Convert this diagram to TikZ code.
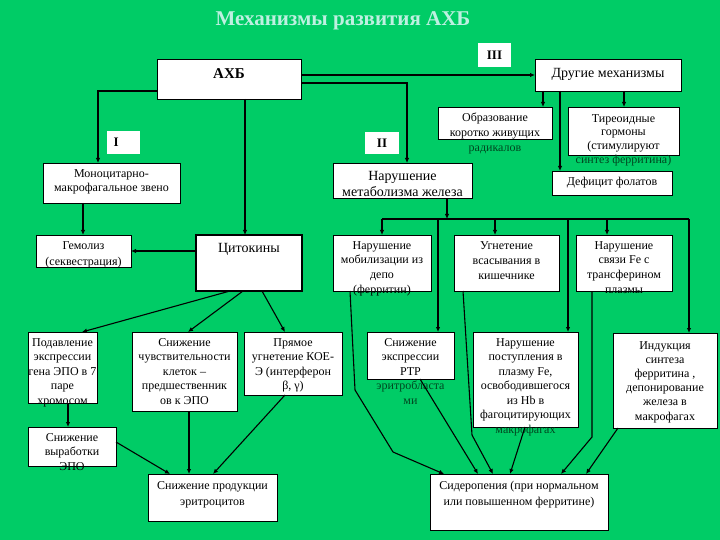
\documentclass[tikz,border=0pt]{standalone}
\usepackage{fontspec}
\setmainfont{Liberation Serif}
\usetikzlibrary{arrows.meta}
\definecolor{bg}{RGB}{0,204,102}
\definecolor{ttl}{RGB}{190,240,225}
\definecolor{ovf}{RGB}{0,70,32}
\newcommand\bx[5]{\node[box,minimum width={(#4-#2)*1pt},minimum height={(#5-#3)*1pt}] (#1) at ({(#2+#4)/2},{(#3+#5)/2}) {};}
\begin{document}
\begin{tikzpicture}[x=1pt,y=-1pt,
  box/.style={draw=black,line width=0.8pt,fill=white,inner sep=0pt,outer sep=0pt},
  tag/.style={fill=white,inner sep=0pt,outer sep=0pt,font=\bfseries\fontsize{13}{15}\selectfont},
  txt/.style={anchor=north,align=center,inner sep=0pt,font=\fontsize{12}{14.5}\selectfont},
  big/.style={anchor=north,align=center,inner sep=0pt,font=\fontsize{14}{16}\selectfont},
  con/.style={line width=1.1pt},
  arr/.style={con,-{Latex[length=5pt,width=4.5pt]}}]
\fill[bg] (0,0) rectangle (720,540);
\useasboundingbox (0,0) rectangle (720,540);

\node[font=\bfseries\fontsize{21}{25}\selectfont,text=ttl,inner sep=0pt] (title) at (343,21) {Механизмы развития АХБ};

% boxes
\bx{ahb}{157}{59}{301}{99}
\bx{oth}{535}{59}{681}{91}
\bx{mono}{43}{163}{180}{203}
\bx{met}{333}{163}{472}{198}
\bx{obr}{438}{107}{552}{139}
\bx{tir}{568}{107}{679}{155}
\bx{def}{552}{171}{672}{195}
\bx{gem}{36}{235}{131}{267}
\node[box,line width=2.5pt,minimum width=106pt,minimum height=56pt] (cyt) at (249,263) {};
\bx{mob}{333}{235}{431}{291}
\bx{ugn}{454}{235}{559}{291}
\bx{svy}{576}{235}{672}{291}
\bx{pod}{28}{332}{97}{403}
\bx{chu}{132}{332}{237}{411}
\bx{pry}{244}{332}{342}{395}
\bx{vyr}{28}{427}{116}{466}
\bx{rtr}{367}{332}{454}{379}
\bx{pos}{473}{332}{578}{427}
\bx{ind}{613}{333}{717}{428}
\bx{pro}{148}{474}{277}{521}
\bx{sid}{430}{474}{608}{530}

% labels
\node[tag,minimum width=33pt,minimum height=24pt] (l3) at (494.5,55) {III};
\node[tag,minimum width=33pt,minimum height=23pt,text width=28pt,align=left] (l1) at (123.5,142.5) {\hspace*{4pt}I};
\node[tag,minimum width=34pt,minimum height=22pt] (l2) at (382,143) {II};

% texts
\node[font=\bfseries\fontsize{15}{17}\selectfont,inner sep=0pt] (t-ahb) at (229,74) {АХБ};
\node[font=\fontsize{14}{16}\selectfont,inner sep=0pt] (t-oth) at (608,74) {Другие механизмы};
\node[txt] (t-mono) at (111.5,169) {Моноцитарно-\\макрофагальное звено};
\node[big] (t-met) at (402.5,170.7) {Нарушение\\метаболизма железа};
\node[txt,font=\fontsize{12}{15}\selectfont] (t-obr) at (495,113) {Образование\\коротко живущих\\\textcolor{ovf}{радикалов}};
\node[txt,font=\fontsize{12}{13.7}\selectfont] (t-tir) at (623.5,114) {Тиреоидные\\гормоны\\(стимулируют\\\textcolor{ovf}{синтез ферритина)}};
\node[font=\fontsize{12}{14.5}\selectfont,inner sep=0pt] (t-def) at (612,183) {Дефицит фолатов};
\node[txt,font=\fontsize{12}{16}\selectfont] (t-gem) at (83.5,241) {Гемолиз\\(секвестрация)};
\node[big] (t-cyt) at (249,242.7) {Цитокины};
\node[txt,font=\fontsize{12}{14.7}\selectfont] (t-mob) at (382,241) {Нарушение\\мобилизации из\\депо\\(ферритин)};
\node[txt,font=\fontsize{12}{15}\selectfont] (t-ugn) at (506.5,241) {Угнетение\\всасывания в\\кишечнике};
\node[txt,font=\fontsize{12}{14.7}\selectfont] (t-svy) at (624,241) {Нарушение\\связи Fe с\\трансферином\\плазмы};
\node[txt] (t-pod) at (62.5,338) {Подавление\\экспрессии\\гена ЭПО в 7\\паре\\хромосом};
\node[txt] (t-chu) at (184.5,338) {Снижение\\чувствительности\\клеток –\\предшественник\\ов к ЭПО};
\node[txt] (t-pry) at (293,338) {Прямое\\угнетение КОЕ-\\Э (интерферон\\β, γ)};
\node[txt] (t-vyr) at (72,433) {Снижение\\выработки\\ЭПО};
\node[txt] (t-rtr) at (410.5,338) {Снижение\\экспрессии\\РТР\\\textcolor{ovf}{эритробласта}\\\textcolor{ovf}{ми}};
\node[txt] (t-pos) at (525.5,338) {Нарушение\\поступления в\\плазму Fe,\\освободившегося\\из Hb в\\фагоцитирующих\\\textcolor{ovf}{макрофагах}};
\node[txt,font=\fontsize{12}{14.2}\selectfont] (t-ind) at (665,341) {Индукция\\синтеза\\ферритина ,\\депонирование\\железа в\\макрофагах};
\node[txt,font=\fontsize{12}{16}\selectfont] (t-pro) at (212.5,481) {Снижение продукции\\эритроцитов};
\node[txt,font=\fontsize{12}{16}\selectfont] (t-sid) at (519,481) {Сидеропения (при нормальном\\или повышенном ферритине)};

% connectors
\draw[arr] (ahb.east |- oth.west) -- (oth.west);
\draw[arr] (ahb.east |- 0,83) -| (407,0 |- met.north);
\draw[arr] (ahb.west |- 0,91) -| (98,0 |- mono.north);
\draw[arr] (245,0 |- ahb.south) -- (245,0 |- cyt.north);
\draw[arr] (543,0 |- oth.south) -- (543,0 |- obr.north);
\draw[arr] (560,0 |- oth.south) -- (560,0 |- def.north);
\draw[arr] (624,0 |- oth.south) -- (624,0 |- tir.north);
\draw[arr] (83,0 |- mono.south) -- (83,0 |- gem.north);
\draw[arr] (cyt.west |- 0,251) -- (gem.east |- 0,251);
\draw[arr] (230,0 |- cyt.south) -- (82,0 |- pod.north);
\draw[arr] (243,0 |- cyt.south) -- (188,0 |- chu.north);
\draw[arr] (262,0 |- cyt.south) -- (285,0 |- pry.north);
\draw[arr] (68,0 |- pod.south) -- (68,0 |- vyr.north);
\draw[arr] (vyr.east |- 0,442) -- (170,0 |- pro.north);
\draw[arr] (189,0 |- chu.south) -- (189,0 |- pro.north);
\draw[arr] (285,0 |- pry.south) -- (213,0 |- pro.north);
\coordinate (bus) at (447,219);
\draw[arr] (447,0 |- met.south) -- (bus);
\draw[con] (382,0 |- bus) -- (689,0 |- bus);
\draw[arr] (382,0 |- bus) -- (382,0 |- mob.north);
\draw[arr] (438,0 |- bus) -- (438,0 |- rtr.north);
\draw[arr] (495,0 |- bus) -- (495,0 |- ugn.north);
\draw[arr] (568,0 |- bus) -- (568,0 |- pos.north);
\draw[arr] (607,0 |- bus) -- (607,0 |- svy.north);
\draw[arr] (689,0 |- bus) -- (689,0 |- ind.north);
\draw[arr] (350,0 |- mob.south) -- (355,390) -- (393,452) -- (444,0 |- sid.north);
\draw[arr] (420,0 |- rtr.south) -- (478,0 |- sid.north);
\draw[arr] (463,0 |- ugn.south) -- (472,435) -- (493,0 |- sid.north);
\draw[arr] (525,0 |- pos.south) -- (510,0 |- sid.north);
\draw[arr] (592,0 |- svy.south) -- (592,437) -- (561,0 |- sid.north);
\draw[arr] (618,0 |- ind.south) -- (586,0 |- sid.north);
\end{tikzpicture}
\end{document}
